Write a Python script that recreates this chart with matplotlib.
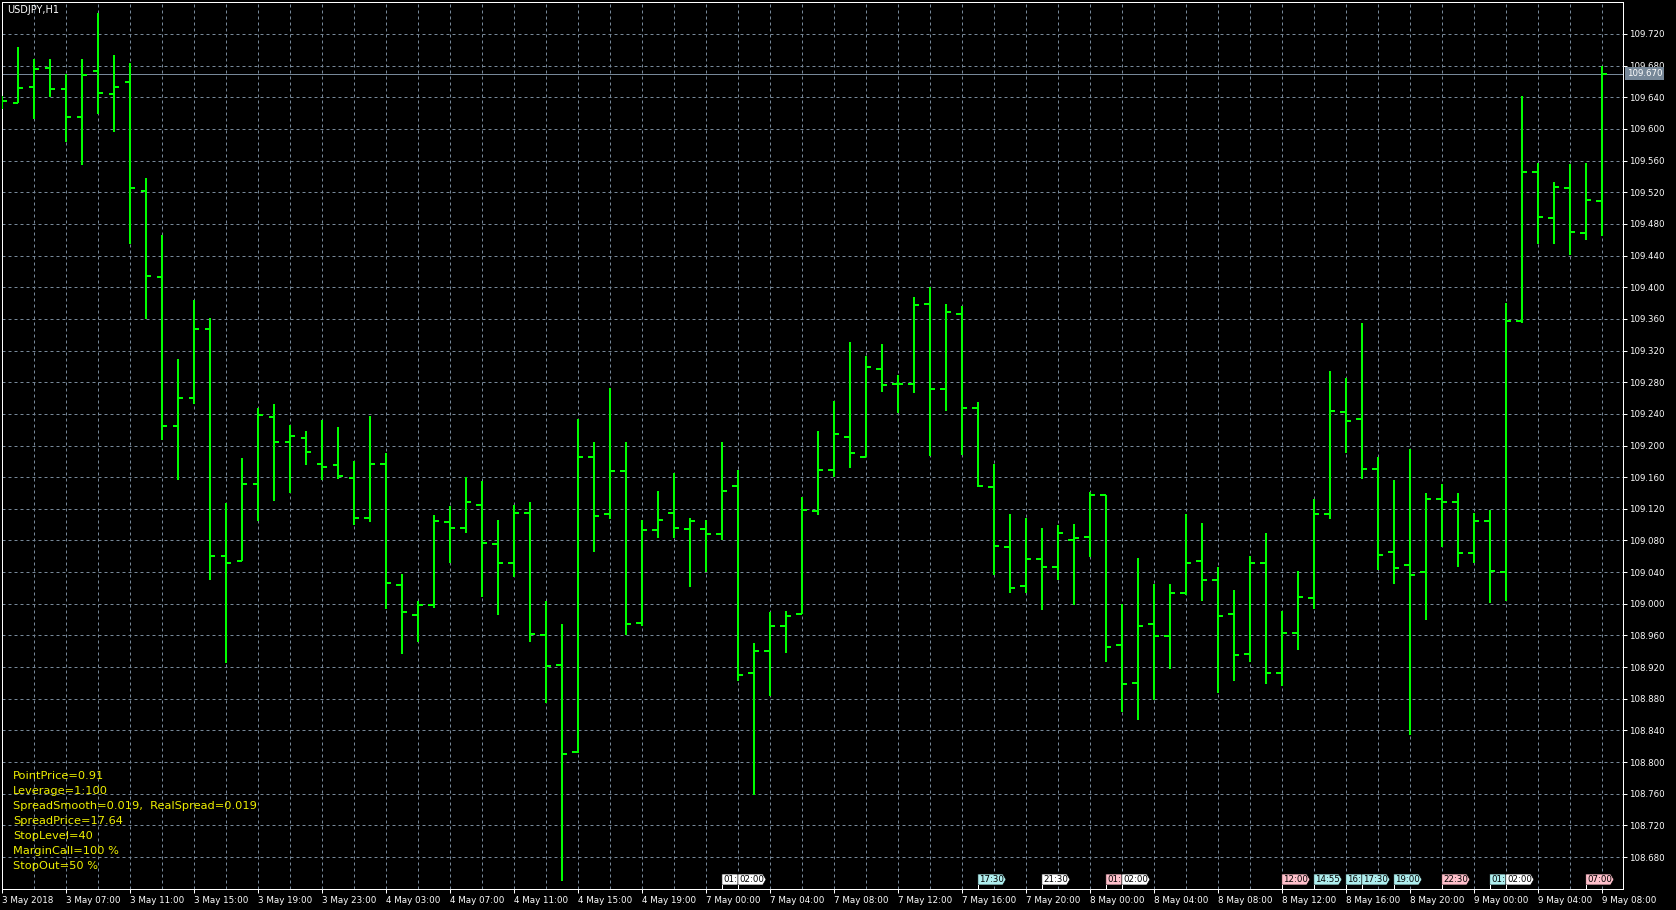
import matplotlib
matplotlib.use("Agg")
import matplotlib.pyplot as plt
import numpy as np
from matplotlib.patches import Polygon
from matplotlib.transforms import blended_transform_factory

# USDJPY H1 bars, 3 May 03:00 .. 9 May 08:00
symbol = "USDJPY,H1"
opens = [109.630, 109.633, 109.653, 109.677, 109.650, 109.615, 109.673, 109.644, 109.659, 109.521,
         109.413, 109.225, 109.260, 109.347, 109.060, 109.054, 109.151, 109.236, 109.204, 109.209,
         109.176, 109.175, 109.159, 109.109, 109.177, 109.024, 108.986, 108.999, 109.103, 109.096,
         109.125, 109.076, 109.052, 109.115, 108.960, 108.923, 108.813, 109.185, 109.114, 109.168,
         108.976, 109.093, 109.115, 109.095, 109.095, 109.088, 109.149, 108.913, 108.940, 108.972,
         108.987, 109.117, 109.169, 109.211, 109.186, 109.297, 109.278, 109.278, 109.379, 109.271,
         109.366, 109.247, 109.148, 109.072, 109.023, 109.057, 109.046, 109.080, 109.085, 109.138,
         108.948, 108.900, 108.974, 108.959, 109.014, 109.054, 109.030, 108.987, 108.936, 109.052,
         108.912, 108.963, 109.007, 109.114, 109.242, 109.233, 109.170, 109.065, 109.049, 109.040,
         109.132, 109.128, 109.064, 109.104, 109.040, 109.357, 109.546, 109.488, 109.525, 109.468,
         109.509]
highs = [109.642, 109.703, 109.688, 109.688, 109.670, 109.688, 109.746, 109.694, 109.683, 109.538,
         109.466, 109.309, 109.384, 109.361, 109.127, 109.184, 109.247, 109.252, 109.226, 109.218,
         109.232, 109.224, 109.180, 109.237, 109.190, 109.037, 109.003, 109.112, 109.123, 109.160,
         109.155, 109.106, 109.125, 109.129, 109.003, 108.974, 109.233, 109.204, 109.273, 109.204,
         109.106, 109.143, 109.165, 109.109, 109.106, 109.204, 109.169, 108.951, 108.989, 108.991,
         109.135, 109.218, 109.256, 109.331, 109.313, 109.328, 109.289, 109.388, 109.400, 109.379,
         109.376, 109.255, 109.176, 109.113, 109.108, 109.096, 109.100, 109.101, 109.141, 109.138,
         109.000, 109.058, 109.025, 109.025, 109.114, 109.102, 109.047, 109.018, 109.061, 109.090,
         108.991, 109.042, 109.133, 109.294, 109.285, 109.355, 109.186, 109.156, 109.195, 109.140,
         109.151, 109.140, 109.115, 109.119, 109.380, 109.641, 109.557, 109.533, 109.556, 109.557,
         109.679]
lows = [109.625, 109.633, 109.613, 109.640, 109.584, 109.555, 109.619, 109.596, 109.455, 109.360,
        109.207, 109.156, 109.252, 109.030, 108.925, 109.054, 109.104, 109.130, 109.140, 109.175,
        109.157, 109.158, 109.099, 109.103, 108.994, 108.936, 108.952, 108.995, 109.051, 109.090,
        109.008, 108.986, 109.034, 108.952, 108.875, 108.650, 108.812, 109.066, 109.107, 108.960,
        108.972, 109.083, 109.083, 109.021, 109.040, 109.080, 108.903, 108.759, 108.884, 108.938,
        108.987, 109.112, 109.160, 109.171, 109.185, 109.267, 109.241, 109.266, 109.187, 109.244,
        109.188, 109.148, 109.036, 109.013, 109.014, 108.992, 109.030, 108.998, 109.059, 108.926,
        108.863, 108.853, 108.878, 108.918, 109.011, 109.004, 108.887, 108.902, 108.927, 108.899,
        108.896, 108.942, 108.993, 109.107, 109.191, 109.158, 109.043, 109.025, 108.834, 108.980,
        109.072, 109.047, 109.052, 109.001, 109.004, 109.355, 109.454, 109.454, 109.441, 109.460,
        109.465]
closes = [109.635, 109.652, 109.676, 109.650, 109.615, 109.668, 109.645, 109.653, 109.525, 109.414,
          109.225, 109.260, 109.347, 109.060, 109.052, 109.151, 109.239, 109.204, 109.212, 109.192,
          109.173, 109.161, 109.108, 109.176, 109.026, 108.990, 108.998, 109.104, 109.096, 109.128,
          109.077, 109.051, 109.115, 108.962, 108.921, 108.810, 109.186, 109.111, 109.168, 108.974,
          109.093, 109.106, 109.096, 109.104, 109.088, 109.143, 108.910, 108.940, 108.972, 108.984,
          109.118, 109.169, 109.214, 109.190, 109.299, 109.277, 109.278, 109.378, 109.272, 109.369,
          109.247, 109.149, 109.073, 109.020, 109.057, 109.046, 109.090, 109.083, 109.137, 108.946,
          108.899, 108.972, 108.959, 109.013, 109.052, 109.030, 108.984, 108.935, 109.052, 108.913,
          108.963, 109.008, 109.113, 109.243, 109.231, 109.170, 109.062, 109.045, 109.036, 109.132,
          109.128, 109.064, 109.104, 109.041, 109.357, 109.546, 109.489, 109.527, 109.470, 109.510,
          109.670]
bid = 109.670

# labels under every 4th bar
time_labels = ["3 May 2018", "3 May 07:00", "3 May 11:00", "3 May 15:00", "3 May 19:00",
               "3 May 23:00", "4 May 03:00", "4 May 07:00", "4 May 11:00", "4 May 15:00",
               "4 May 19:00", "7 May 00:00", "7 May 04:00", "7 May 08:00", "7 May 12:00",
               "7 May 16:00", "7 May 20:00", "8 May 00:00", "8 May 04:00", "8 May 08:00",
               "8 May 12:00", "8 May 16:00", "8 May 20:00", "9 May 00:00", "9 May 04:00",
               "9 May 08:00"]
price_ticks = np.round(np.arange(108.68, 109.7201, 0.04), 3)

# news event flags on the time axis
flag_bars = [45, 46, 61, 65, 69, 70, 80, 82, 84, 85, 87, 90, 93, 94, 99]
flag_texts = ["01:", "02:00", "17:30", "21:30", "01:", "02:00", "12:00", "14:55",
              "16:", "17:30", "19:00", "22:30", "01:", "02:00", "07:00"]
flag_colors = ["white", "white", "cyan", "white", "pink", "white", "pink", "cyan",
               "cyan", "cyan", "cyan", "pink", "cyan", "white", "pink"]
flag_fill = {"white": "#ffffff", "cyan": "#afeeee", "pink": "#ffc0cb"}

info_lines = ["PointPrice=0.91", "Leverage=1:100", "SpreadSmooth=0.019,  RealSpread=0.019",
              "SpreadPrice=17.64", "StopLevel=40", "MarginCall=100 %", "StopOut=50 %"]

W, H = 1676, 910
px = 0.72  # one pixel in points at 100 dpi
green = "#00ff00"
grid_c = "#778899"

plt.rcParams["font.family"] = ["DejaVu Sans"]
fig = plt.figure(figsize=(W / 100, H / 100), dpi=100, facecolor="black")
ax = fig.add_axes([2 / W, 21 / H, 1621 / W, 887 / H], facecolor="black")

x = np.arange(len(opens))
ax.vlines(x, lows, highs, color=green, lw=2 * px, zorder=3)
ax.hlines(opens, x - 0.34, x, color=green, lw=2 * px, zorder=3)
ax.hlines(closes, x, x + 0.34, color=green, lw=2 * px, zorder=3)

ax.set_xlim(0.02, 101.33)
ax.set_ylim(108.6396, 109.7604)

ax.set_xticks(np.arange(0, 101, 4))
ax.set_xticks(np.arange(2, 101, 4), minor=True)
ax.set_xticklabels(time_labels)
for lbl in ax.get_xticklabels():
    lbl.set_ha("left")
ax.set_yticks(price_ticks)
ax.set_yticklabels([f"{v:.3f}" for v in price_ticks])
ax.yaxis.tick_right()

ax.grid(True, which="both", color=grid_c, lw=px, ls=(0, (3, 3)), zorder=1)
ax.tick_params(axis="x", which="major", colors="white", labelsize=6.3, length=4 * px,
               width=px, pad=2)
ax.tick_params(axis="x", which="minor", length=0)
ax.tick_params(axis="y", colors="white", labelsize=6.2, length=4 * px, width=px, pad=1.5)
for s in ax.spines.values():
    s.set_color("white")
    s.set_linewidth(px)

# bid line + price box
ax.axhline(bid, color=grid_c, lw=px, zorder=2)
ax.text(1 + 4 / 1621, bid, f"{bid:.3f}",
        transform=blended_transform_factory(ax.transAxes, ax.transData),
        ha="left", va="center", color="white", fontsize=6.2, zorder=6, clip_on=False,
        bbox=dict(boxstyle="square,pad=0.18", fc=grid_c, ec="none"))

ax.text(5 / 1621, 1 - 8 / 887, symbol, transform=ax.transAxes, color="white",
        fontsize=7, va="center", ha="left")

for j, line in enumerate(info_lines):
    ax.text(11 / 1621, (889 - (776 + 15 * j)) / 887, line, transform=ax.transAxes,
            color="#f0f000", fontsize=8.2, va="center", ha="left", zorder=5)

# event flags
trans = blended_transform_factory(ax.transData, ax.transAxes)
yb, yt = 4 / 887, 15 / 887
ym = (yb + yt) / 2
for i, (b, t, c) in enumerate(zip(flag_bars, flag_texts, flag_colors)):
    nxt = flag_bars[i + 1] if i + 1 < len(flag_bars) else 1e9
    body = min(1.56, nxt - b)
    tip = 0.2
    pts = [(b, yb), (b + body, yb), (b + body + tip, ym), (b + body, yt), (b, yt)]
    ax.add_patch(Polygon(pts, closed=True, transform=trans, fc=flag_fill[c], ec="black",
                         lw=0.5, zorder=7 + i, clip_on=False))
    ax.plot([b, b], [0, yb], transform=trans, color="white", lw=px, zorder=7 + i)
    ax.text(b + 0.1, ym, t, transform=trans, fontsize=6.2, color="black", va="center",
            ha="left", zorder=7 + i + 0.5, clip_on=False)

fig.savefig("out.png", dpi=100, facecolor="black")
